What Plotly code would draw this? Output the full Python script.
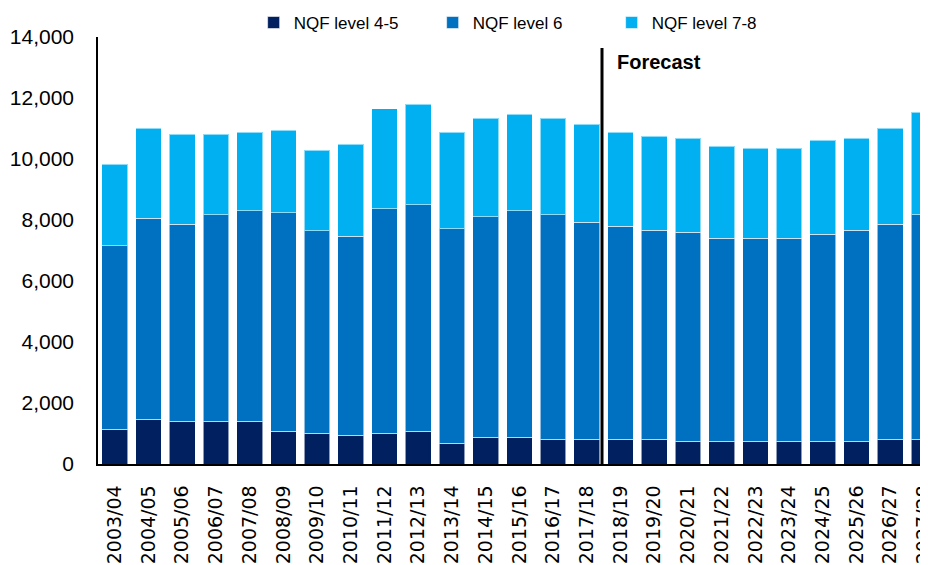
import plotly.graph_objects as go

years = ["2003/04", "2004/05", "2005/06", "2006/07", "2007/08", "2008/09", "2009/10",
         "2010/11", "2011/12", "2012/13", "2013/14", "2014/15", "2015/16", "2016/17",
         "2017/18", "2018/19", "2019/20", "2020/21", "2021/22", "2022/23", "2023/24",
         "2024/25", "2025/26", "2026/27", "2027/28"]

nqf_4_5 = [1140, 1470, 1400, 1400, 1400, 1070, 1010, 940, 1010, 1070, 680, 870, 870,
           810, 810, 810, 810, 740, 740, 740, 740, 740, 740, 810, 810]
nqf_6 = [6010, 6590, 6460, 6780, 6910, 7170, 6640, 6530, 7360, 7430, 7040, 7240, 7440,
         7370, 7120, 6980, 6850, 6860, 6660, 6660, 6660, 6790, 6920, 7050, 7370]
nqf_7_8 = [2680, 2950, 2950, 2630, 2570, 2700, 2640, 3010, 3280, 3290, 3160, 3230, 3160,
           3160, 3210, 3090, 3090, 3080, 3020, 2950, 2950, 3080, 3020, 3150, 3350]

series_names = ["NQF level 4-5", "NQF level 6", "NQF level 7-8"]
series_colors = ["#002060", "#0070C0", "#00B0F0"]
forecast_pos = 14.45

fig = go.Figure()
for name, vals, col in zip(series_names, [nqf_4_5, nqf_6, nqf_7_8], series_colors):
    fig.add_trace(go.Bar(
        x=list(range(len(years))), y=vals, name=name,
        marker=dict(color=col, line=dict(color="rgba(255,255,255,0.55)", width=1)),
    ))

fig.add_shape(type="line", xref="x", yref="paper", x0=forecast_pos, x1=forecast_pos,
              y0=0, y1=0.974, line=dict(color="black", width=3))
fig.add_annotation(x=14.83, xref="x", y=0.9415, yref="paper", text="<b>Forecast</b>",
                   showarrow=False, xanchor="left", yanchor="middle",
                   font=dict(family="Liberation Sans, Arial", size=20, color="black"))

fig.update_layout(
    width=920, height=557,
    margin=dict(l=90, r=0, t=29, b=101, autoexpand=False),
    barmode="stack", bargap=0.237,
    plot_bgcolor="white", paper_bgcolor="white",
    font=dict(family="Liberation Sans, Arial", color="black"),
    legend=dict(orientation="h", x=0.511, xanchor="center", y=1.075, yanchor="top",
                font=dict(size=17, family="Liberation Sans, Arial"),
                itemwidth=30, entrywidth=134, entrywidthmode="pixels",
                traceorder="normal", bgcolor="rgba(0,0,0,0)"),
    xaxis=dict(tickmode="array", tickvals=list(range(len(years))), ticktext=years,
               range=[-0.5, 24.12], tickangle=-90, showgrid=False, showline=True,
               linecolor="black", linewidth=1.5, ticks="", ticklabelstandoff=12,
               automargin=False, ticklabeloverflow="allow",
               tickfont=dict(family="DejaVu Sans", size=19, color="black"), zeroline=False),
    yaxis=dict(range=[0, 14000], dtick=2000, tickformat=",", showgrid=False,
               showline=True, linecolor="black", linewidth=1.5, ticks="",
               ticklabelstandoff=18, zeroline=False, automargin=False,
               tickfont=dict(family="Liberation Sans, Arial", size=21, color="black")),
)

fig.write_html("out.html")
